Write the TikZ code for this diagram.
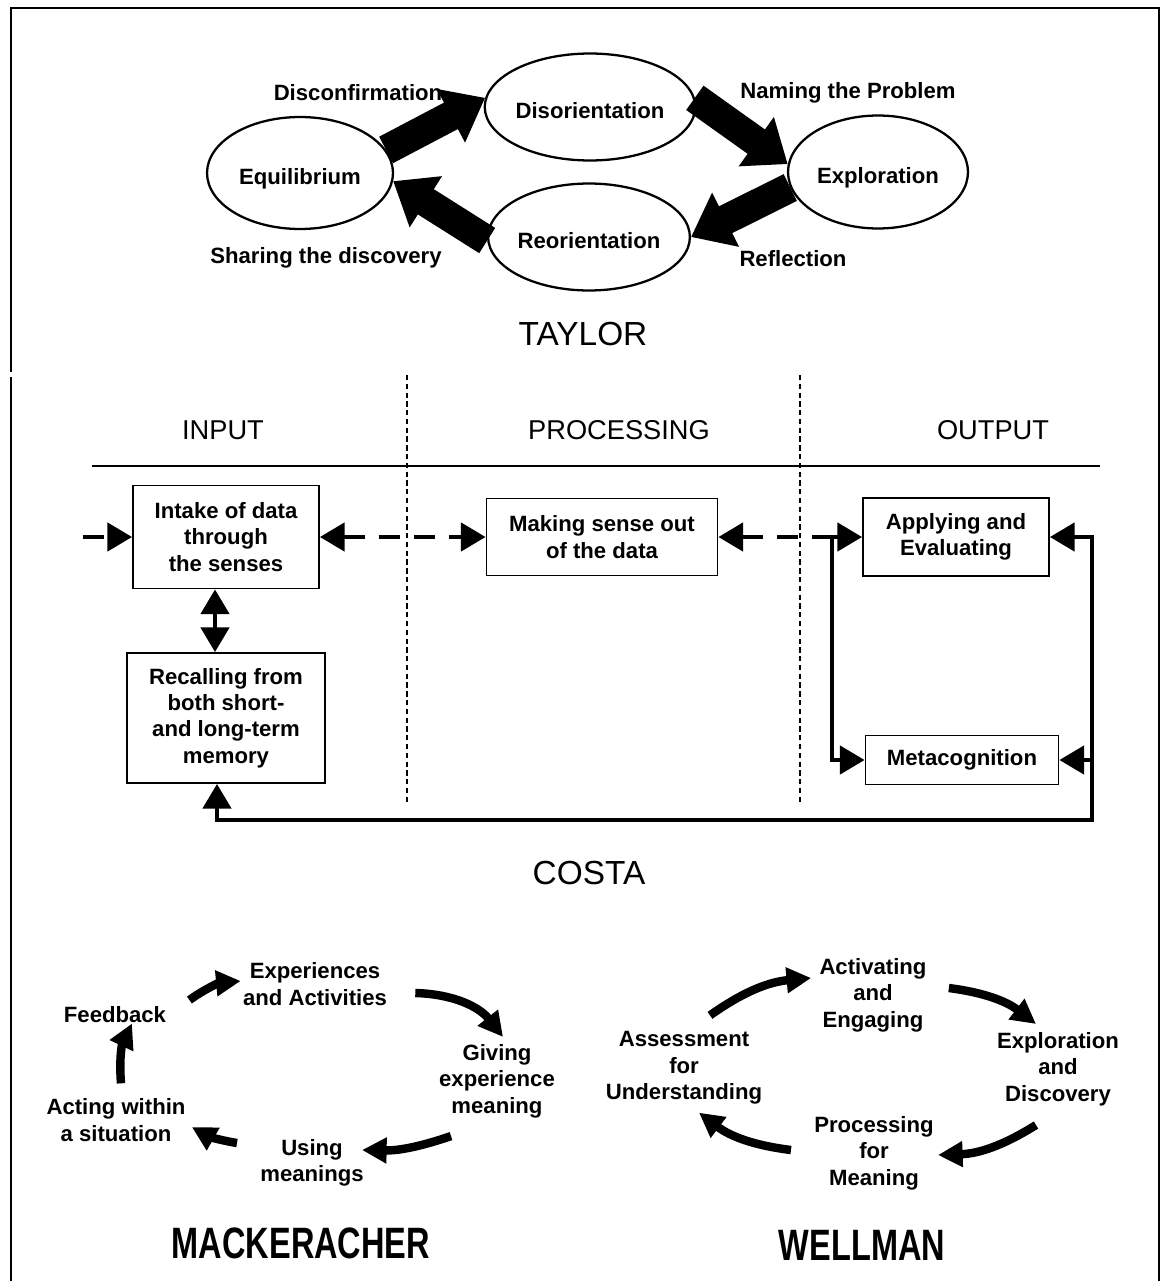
\documentclass[tikz,border=0pt]{standalone}
\usepackage{fontspec}
\setmainfont{Liberation Sans}
\usepackage{graphicx}
\usetikzlibrary{shapes.geometric,arrows.meta}

\tikzset{
  lbl/.style={font=\fontsize{12.6}{15}\selectfont\bfseries, align=center, inner sep=0pt},
  stage/.style={ellipse, draw, line width=1.3pt, lbl, text height=15.5pt, text depth=2.7pt},
  fat/.style={line width=17pt, -{Triangle[length=22pt,width=33pt]}},
  box/.style={rectangle, draw, line width=1.1pt, lbl},
  link/.style={line width=2.3pt},
  dlink/.style={link, dash pattern=on 12pt off 8pt},
  cyc/.style={line width=4.8pt, -{Triangle[length=14pt,width=14pt]}},
  title/.style={font=\fontsize{19}{23}\selectfont},
  bigtitle/.style={font=\fontsize{25}{30}\selectfont\bfseries},
  head/.style={font=\fontsize{15.5}{18}\selectfont},
}

\begin{document}
\begin{tikzpicture}[x=0.02cm, y=0.02cm, >={Triangle[length=14pt,width=16pt]}]
\useasboundingbox (0,0) rectangle (1161,-1281);
% frame
\draw[line width=1.2pt] (11,-372) -- (11,-8) -- (1159,-8) -- (1159,-1281);
\draw[line width=1.2pt] (11,-377) -- (11,-1281);

% TAYLOR
\node[stage, minimum width=3.72cm, minimum height=2.24cm] (equi) at (300,-173) {Equilibrium};
\node[stage, minimum width=3.84cm, minimum height=2.14cm] (disor) at (590,-107) {Disorientation};
\node[stage, minimum width=3.8cm, minimum height=2.14cm] (reor) at (589,-237) {Reorientation};
\node[stage, minimum width=3.6cm, minimum height=2.26cm] (explo) at (878,-172) {Exploration};
\draw[fat] (equi.15) -- (disor.175);
\draw[fat] (disor.5) -- (explo.175);
\draw[fat] (explo.190) -- (reor.0);
\draw[fat] (reor.182) -- (equi.355);
\node[lbl] (disconf) at (358,-93) {Disconfirmation};
\node[lbl] (naming) at (848,-93) {Naming the Problem};
\node[lbl] (sharing) at (326,-258) {Sharing the discovery};
\node[lbl] (reflect) at (793,-259) {Reflection};
\node[title] (taylor) at (583,-334) {TAYLOR};

% COSTA
\node[head] (input) at (223,-430) {INPUT};
\node[head] (processing) at (619,-430) {PROCESSING};
\node[head] (output) at (993,-430) {OUTPUT};
\draw[line width=0.9pt] (92,-466) -- (1100,-466);
\draw[densely dashed, line width=0.9pt] (407,-375) -- (407,-805);
\draw[densely dashed, line width=0.9pt] (800,-375) -- (800,-805);

\node[box, minimum width=3.72cm, minimum height=2.06cm] (intake) at (226,-537) {Intake of data\\through\\the senses};
\node[box, minimum width=3.96cm, minimum height=2.6cm] (recall) at (226,-718) {Recalling from\\both short-\\and long-term\\memory};
\node[box, minimum width=4.62cm, minimum height=1.54cm] (making) at (602,-537) {Making sense out\\of the data};
\node[box, minimum width=3.72cm, minimum height=1.56cm] (apply) at (956,-537) {Applying and\\Evaluating};
\node[box, minimum width=3.86cm, minimum height=0.98cm] (meta) at (962,-760) {Metacognition};

\coordinate (inleft) at (83,-537);
\coordinate (jn) at (832,-537);
\coordinate (rtop) at (1092,-537);
\coordinate (rbot) at (1092,-820);
\draw[dlink, ->] (inleft) -- (intake.west);
\draw[dlink, <->] (intake.east) -- (making.west);
\draw[dlink, <-] (making.east) -- (jn);
\draw[link, <->] (apply.west) -- (jn) |- (meta.west);
\draw[link, <->] (apply.east) -- (rtop) |- (meta.east);
\draw[link, ->] (rtop) -- (rbot) -| ([shift={(-9,0)}]recall.south);
\draw[link, <->] ([shift={(-11,0)}]intake.south) -- ([shift={(-11,0)}]recall.north);
\node[title] (costa) at (589,-873) {COSTA};

% MACKERACHER
\node[lbl] (feed) at (115,-1015) {Feedback};
\node[lbl] (expe) at (315,-984) {Experiences\\and Activities};
\node[lbl] (givi) at (497,-1081) {Giving\\experience\\meaning};
\node[lbl] (usin) at (312,-1163) {Using\\meanings};
\node[lbl] (acti) at (116,-1120) {Acting within\\a situation};
\draw[cyc] ([shift={(23,15)}]feed.east) to[bend left=15] ([shift={(-2,3)}]expe.west);
\draw[cyc] ([shift={(28,-9)}]expe.east) to[bend left=25] ([shift={(6,7)}]givi.north);
\draw[cyc] ([shift={(-46,-18)}]givi.south) to[bend left=10] ([shift={(-2,13)}]usin.east);
\draw[cyc] ([shift={(-23,20)}]usin.west) to[bend left=10] ([shift={(6,-7)}]acti.east);
\draw[cyc] ([shift={(5,15)}]acti.north) to[bend left=15] ([shift={(17,0)}]feed.south);
\node[bigtitle] (macker) at (301,-1243) {\scalebox{0.74}[1]{MACKERACHER}};

% WELLMAN
\node[lbl] (activ) at (873,-995) {Activating\\and\\Engaging};
\node[lbl] (discov) at (1058,-1069) {Exploration\\and\\Discovery};
\node[lbl] (proc) at (874,-1153) {Processing\\for\\Meaning};
\node[lbl] (asse) at (684,-1068) {Assessment\\for\\Understanding};
\draw[cyc] ([shift={(26,16)}]asse.north) to[bend left=15] ([shift={(-8,17)}]activ.west);
\draw[cyc] ([shift={(22,7)}]activ.east) to[bend left=15] ([shift={(-22,8)}]discov.north);
\draw[cyc] ([shift={(-22,-19)}]discov.south) to[bend left=15] ([shift={(4,-2)}]proc.east);
\draw[cyc] ([shift={(-23,3)}]proc.west) to[bend left=15] ([shift={(15,-8)}]asse.south);
\node[bigtitle] (wellman) at (862,-1245) {\scalebox{0.74}[1]{WELLMAN}};
\end{tikzpicture}
\end{document}
